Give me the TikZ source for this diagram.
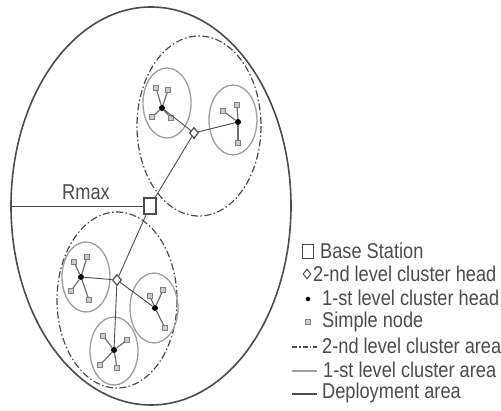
\documentclass[tikz,border=0pt]{standalone}
\usepackage{fontspec}
\setmainfont{Liberation Sans}
\usetikzlibrary{shapes.geometric}
\definecolor{dk}{gray}{0.3}
\newcommand{\lgtext}[1]{\scalebox{1}[1.18]{#1}}
\begin{document}
\begin{tikzpicture}[x=1pt,y=-1pt,
 deploy/.style={draw=dk, line width=1.6pt},
 areaone/.style={draw=gray!75, line width=1.3pt},
 areatwo/.style={draw=dk, line width=1.2pt, dash pattern=on 7pt off 2.5pt on 1.5pt off 2.5pt},
 link/.style={draw=dk, line width=0.9pt},
 slink/.style={draw=dk!80, line width=1.2pt},
 bsnode/.style={draw=dk, line width=1.3pt, minimum width=12pt, minimum height=16pt, inner sep=0pt, fill=white},
 chtwo/.style={diamond, draw=dk, line width=1.2pt, minimum width=9pt, minimum height=11pt, inner sep=0pt, fill=white},
 chone/.style={circle, fill=black, minimum size=6pt, inner sep=0pt},
 simple/.style={draw=gray, line width=0.9pt, fill=gray!40, minimum size=4.5pt, inner sep=0pt},
 lbl/.style={text=dk, inner sep=0pt, anchor=west, font=\fontsize{18.2}{18}\selectfont}
]
\useasboundingbox (0,0) rectangle (501,411);
\fill[white] (0,0) rectangle (501,411);

% areas
\draw[deploy] (151,206) ellipse [x radius=140, y radius=199];
\draw[areatwo] (199,126) ellipse [x radius=62, y radius=90];
\draw[areatwo] (117,300) ellipse [x radius=60, y radius=88];
\draw[areaone] (167,103) ellipse [x radius=24, y radius=35];
\draw[areaone] (233,120) ellipse [x radius=24, y radius=35];
\draw[areaone] (86,277) ellipse [x radius=24, y radius=35];
\draw[areaone] (154,308) ellipse [x radius=24, y radius=35];
\draw[areaone] (114,351) ellipse [x radius=24, y radius=34];

% base station and heads
\node[bsnode] (bs) at (150,206) {};
\coordinate (rl) at (11,206);
\node[chtwo] (ta) at (194,133) {};
\node[chtwo] (tb) at (117,280) {};
\node[chone] (h1) at (162,108) {};
\node[chone] (h2) at (238,122) {};
\node[chone] (h3) at (81,277) {};
\node[chone] (h4) at (155,308) {};
\node[chone] (h5) at (114,350) {};

% simple nodes
\foreach \n/\x/\y/\h in {a1/156/88/h1, a2/168/90/h1, a3/152/117/h1, a4/171/118/h1,
  b1/223/111/h2, b2/237/105/h2, b3/238/143/h2,
  c1/74/262/h3, c2/87/257/h3, c3/71/291/h3, c4/89/300/h3,
  d1/150/296/h4, d2/163/290/h4, d3/165/328/h4,
  e1/103/336/h5, e2/127/340/h5, e3/100/365/h5, e4/117/368/h5}{
  \node[simple] (\n) at (\x,\y) {};
  \draw[slink] (\h) -- (\n);
}

% links
\draw[link] (rl) -- (bs);
\draw[link] (bs) -- (ta);
\draw[link] (bs) -- (tb);
\draw[link] (ta) -- (h1);
\draw[link] (ta) -- (h2);
\draw[link] (tb) -- (h3);
\draw[link] (tb) -- (h4);
\draw[link] (tb) -- (h5);

\node[lbl, anchor=center] (rmax) at (86,192) {\lgtext{Rmax}};

% legend
\node[bsnode, minimum width=11pt, minimum height=14pt, line width=1pt] (lg1) at (308,252) {};
\node[chtwo, minimum width=8pt, minimum height=10pt, line width=1pt] (lg2) at (307,274) {};
\node[chone, minimum size=4.5pt] (lg3) at (308,299) {};
\node[simple] (lg4) at (308,322) {};
\coordinate (l5a) at (292,347); \coordinate (l5b) at (317,347);
\coordinate (l6a) at (292,371); \coordinate (l6b) at (317,371);
\coordinate (l7a) at (292,394); \coordinate (l7b) at (317,394);
\draw[areatwo, dash pattern=on 5pt off 2pt on 1.5pt off 2pt] (l5a) -- (l5b);
\draw[areaone] (l6a) -- (l6b);
\draw[deploy] (l7a) -- (l7b);

\node[lbl] (t1) at (320,251) {\lgtext{Base Station}};
\node[lbl] (t2) at (313,274) {\lgtext{2-nd level cluster head}};
\node[lbl] (t3) at (322,298) {\lgtext{1-st level cluster head}};
\node[lbl] (t4) at (322,322) {\lgtext{Simple node}};
\node[lbl] (t5) at (322,346) {\lgtext{2-nd level cluster area}};
\node[lbl] (t6) at (323,370) {\lgtext{1-st level cluster area}};
\node[lbl] (t7) at (322,393) {\lgtext{Deployment area}};
\end{tikzpicture}
\end{document}
